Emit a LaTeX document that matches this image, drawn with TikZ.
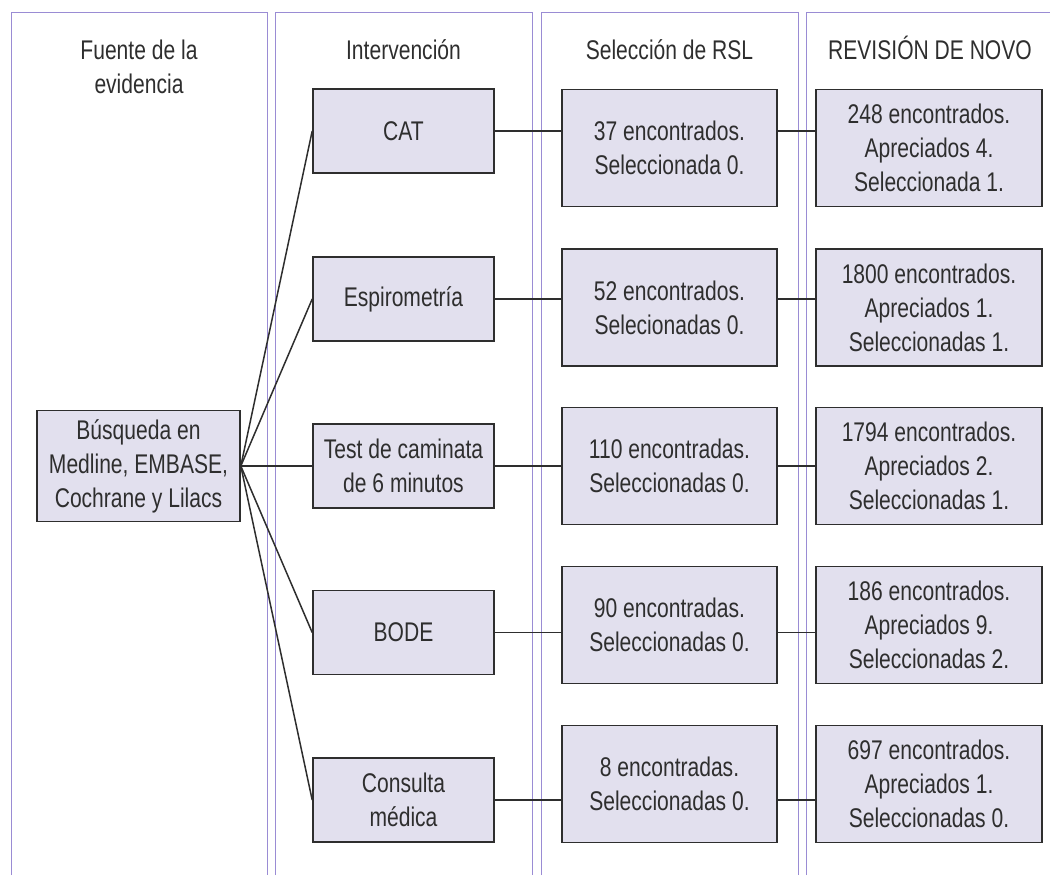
\documentclass[tikz,border=0pt]{standalone}
\usepackage{fontspec}
\setmainfont[FakeStretch=0.78]{Liberation Sans}
\usepackage{tikz}

\definecolor{boxfill}{HTML}{E2E0EE}
\definecolor{colline}{HTML}{9A8CD4}
\definecolor{ink}{HTML}{2E2E2E}

\begin{document}
\begin{tikzpicture}[x=0.5pt,y=-0.5pt,font=\fontsize{13.5}{17}\selectfont,text=ink,
    srcbox/.style={minimum width=101.5pt,minimum height=55.5pt},
    intbox/.style={minimum width=90.5pt,minimum height=42pt},
    selbox/.style={minimum width=107.5pt,minimum height=58.5pt},
    revbox/.style={minimum width=113pt,minimum height=58.5pt}]
            \useasboundingbox (0,0) rectangle (1050,875);
            \begin{scope}[colline,line width=0.5pt]
                \draw (11,875) -- (11,12) -- (267,12) -- (267,875);
                \draw (275,875) -- (275,12) -- (532,12) -- (532,875);
                \draw (541,875) -- (541,12) -- (798,12) -- (798,875);
                \draw (806,875) -- (806,12) -- (1050,12);
            \end{scope}
            \node[anchor=north,align=center] (h1) at (139,33) {Fuente de la\\evidencia};
            \node[anchor=base] (h2) at (403.5,59) {Intervención};
            \node[anchor=base] (h3) at (669.5,59) {Selección de RSL};
            \node[anchor=base] (h4) at (930,59) {REVISIÓN DE NOVO};
            \begin{scope}[every node/.style={rectangle,draw=ink,fill=boxfill,line width=0.8pt,align=center,inner sep=0pt}]
                \node[srcbox] (src) at (138.5,466) {Búsqueda en\\Medline, EMBASE,\\Cochrane y Lilacs};
                \node[intbox] (i1) at (403.5,131) {CAT};
                \node[intbox] (i2) at (403.5,299) {Espirometría};
                \node[intbox] (i3) at (403.5,466) {Test de caminata\\de 6 minutos};
                \node[intbox] (i4) at (403.5,632.5) {BODE};
                \node[intbox] (i5) at (403.5,800) {Consulta\\médica};
                \node[selbox] (s1) at (669.5,148) {37 encontrados.\\Seleccionada 0.};
                \node[selbox] (s2) at (669.5,307.5) {52 encontrados.\\Selecionadas 0.};
                \node[selbox] (s3) at (669.5,466) {110 encontradas.\\Seleccionadas 0.};
                \node[selbox] (s4) at (669.5,625) {90 encontradas.\\Seleccionadas 0.};
                \node[selbox] (s5) at (669.5,784) {8 encontradas.\\Seleccionadas 0.};
                \node[revbox] (r1) at (929,148) {248 encontrados.\\Apreciados 4.\\Seleccionada 1.};
                \node[revbox] (r2) at (929,307.5) {1800 encontrados.\\Apreciados 1.\\Seleccionadas 1.};
                \node[revbox] (r3) at (929,466) {1794 encontrados.\\Apreciados 2.\\Seleccionadas 1.};
                \node[revbox] (r4) at (929,625) {186 encontrados.\\Apreciados 9.\\Seleccionadas 2.};
                \node[revbox] (r5) at (929,784) {697 encontrados.\\Apreciados 1.\\Seleccionadas 0.};
            \end{scope}
            \draw[ink,line width=0.75pt] (src.east) -- (i1.west);
            \draw[ink,line width=0.75pt] (src.east) -- (i2.west);
            \draw[ink,line width=0.75pt] (src.east) -- (i3.west);
            \draw[ink,line width=0.75pt] (src.east) -- (i4.west);
            \draw[ink,line width=0.75pt] (src.east) -- (i5.west);
            \draw[ink,line width=0.75pt] (i1.east) -- (i1.east -| s1.west);
            \draw[ink,line width=0.75pt] (i2.east) -- (i2.east -| s2.west);
            \draw[ink,line width=0.75pt] (i3.east) -- (i3.east -| s3.west);
            \draw[ink,line width=0.75pt] (i4.east) -- (i4.east -| s4.west);
            \draw[ink,line width=0.75pt] (i5.east) -- (i5.east -| s5.west);
            \draw[ink,line width=0.75pt] (i1.east -| s1.east) -- (i1.east -| r1.west);
            \draw[ink,line width=0.75pt] (i2.east -| s2.east) -- (i2.east -| r2.west);
            \draw[ink,line width=0.75pt] (i3.east -| s3.east) -- (i3.east -| r3.west);
            \draw[ink,line width=0.75pt] (i4.east -| s4.east) -- (i4.east -| r4.west);
            \draw[ink,line width=0.75pt] (i5.east -| s5.east) -- (i5.east -| r5.west);
        \end{tikzpicture}
\end{document}
